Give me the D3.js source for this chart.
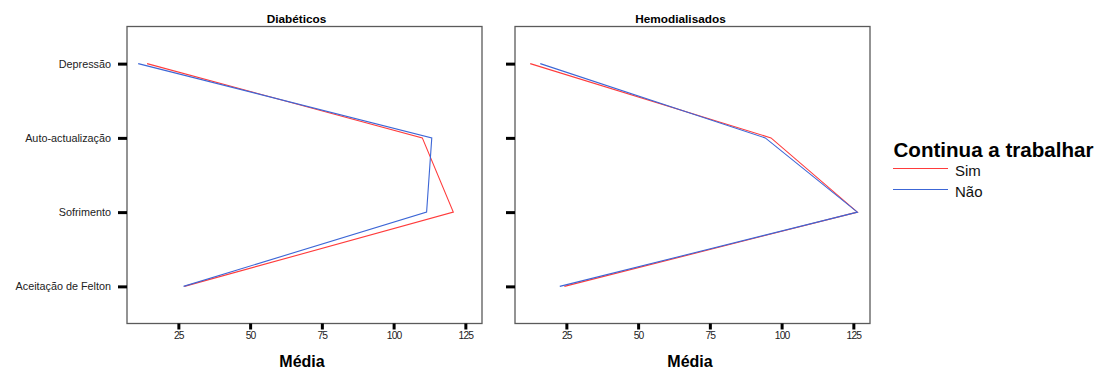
<!DOCTYPE html>
<html>
<head>
<meta charset="utf-8">
<script src="https://cdn.jsdelivr.net/npm/d3@7"></script>
<style>
  html, body { margin: 0; padding: 0; background: #fff; }
  svg { display: block; font-family: "Liberation Sans", Arial, sans-serif; }
</style>
</head>
<body>
<svg id="chart" width="1095" height="370"></svg>
<script>
// Scales (categories on the vertical axis, top to bottom)
const categories = ["Depressão", "Auto-actualização", "Sofrimento", "Aceitação de Felton"];
const groups = ["Diabéticos", "Hemodialisados"];
const seriesNames = ["Sim", "Não"];

// Mean scores per group, one array per answer to "Continua a trabalhar"
const diabeticosSim = [14.1, 110.0, 120.8, 27.1];
const diabeticosNao = [11.0, 113.3, 111.5, 26.8];
const hemodialisadosSim = [12.4, 96.3, 126.4, 24.3];
const hemodialisadosNao = [15.9, 94.3, 126.4, 22.7];

const xTicks = [25, 50, 75, 100, 125];
const legendTitle = "Continua a trabalhar";
const axisTitle = "Média";

const colors = { "Sim": "#ff3b3b", "Não": "#3c66d6" };

const panels = [
  { title: groups[0], left: 127, right: 482, titleX: 296.5, data: { "Sim": diabeticosSim, "Não": diabeticosNao }, labels: true },
  { title: groups[1], left: 515, right: 870, titleX: 680.5, data: { "Sim": hemodialisadosSim, "Não": hemodialisadosNao }, labels: false }
];
const plotTop = 26.5, plotBottom = 323.5;

const svg = d3.select("#chart");

panels.forEach(p => {
  const g = svg.append("g");
  const x = d3.scaleLinear().domain([7.1, 130.8]).range([p.left, p.right]);
  const y = d3.scalePoint().domain(categories).range([plotTop, plotBottom]).padding(0.5);

  // frame
  g.append("rect")
    .attr("x", p.left).attr("y", plotTop)
    .attr("width", p.right - p.left).attr("height", plotBottom - plotTop)
    .attr("fill", "none").attr("stroke", "#5a5a5a").attr("stroke-width", 1.3);

  // x axis
  const xa = g.append("g").attr("transform", `translate(0,${plotBottom})`)
    .call(d3.axisBottom(x).tickValues(xTicks).tickSize(6).tickPadding(2));
  xa.select(".domain").remove();
  xa.selectAll(".tick line").attr("stroke", "#000").attr("stroke-width", 3);
  xa.selectAll(".tick text")
    .attr("font-size", 10.3).attr("fill", "#222")
    .attr("letter-spacing", "-0.9px")
    .attr("font-family", "Liberation Sans, Arial, sans-serif");

  // y axis
  const ya = g.append("g").attr("transform", `translate(${p.left},0)`)
    .call(d3.axisLeft(y).tickSize(9).tickPadding(7));
  ya.select(".domain").remove();
  ya.selectAll(".tick line").attr("stroke", "#000").attr("stroke-width", 3);
  ya.selectAll(".tick text")
    .attr("font-size", 10.8).attr("fill", "#222")
    .attr("font-family", "Liberation Sans, Arial, sans-serif")
    .style("display", p.labels ? null : "none");

  // panel title
  g.append("text")
    .attr("x", p.titleX).attr("y", 23)
    .attr("text-anchor", "middle")
    .attr("font-size", 11.8).attr("font-weight", "bold")
    .text(p.title);

  // axis title
  g.append("text")
    .attr("x", (p.left + p.right) / 2 - 2.5).attr("y", 367)
    .attr("text-anchor", "middle")
    .attr("font-size", 16).attr("font-weight", "bold")
    .text(axisTitle);

  // lines
  const line = d3.line()
    .x(d => x(d.v))
    .y(d => y(d.c));
  seriesNames.forEach(s => {
    const pts = categories.map((c, i) => ({ c, v: p.data[s][i] }));
    g.append("path")
      .datum(pts)
      .attr("d", line)
      .attr("fill", "none")
      .attr("stroke", colors[s])
      .attr("stroke-width", 1.1);
  });
});

// legend
const lg = svg.append("g");
lg.append("text")
  .attr("x", 893.5).attr("y", 156.5)
  .attr("font-size", 19.5).attr("font-weight", "bold")
  .attr("textLength", 200).attr("lengthAdjust", "spacingAndGlyphs")
  .text(legendTitle);
seriesNames.forEach((s, i) => {
  const yy = 168.5 + i * 21;
  lg.append("line")
    .attr("x1", 893).attr("x2", 948)
    .attr("y1", yy).attr("y2", yy)
    .attr("stroke", colors[s]).attr("stroke-width", 1.1);
  lg.append("text")
    .attr("x", 955).attr("y", yy + 7.3)
    .attr("font-size", 15)
    .attr("fill", "#111")
    .text(s);
});
</script>
</body>
</html>
